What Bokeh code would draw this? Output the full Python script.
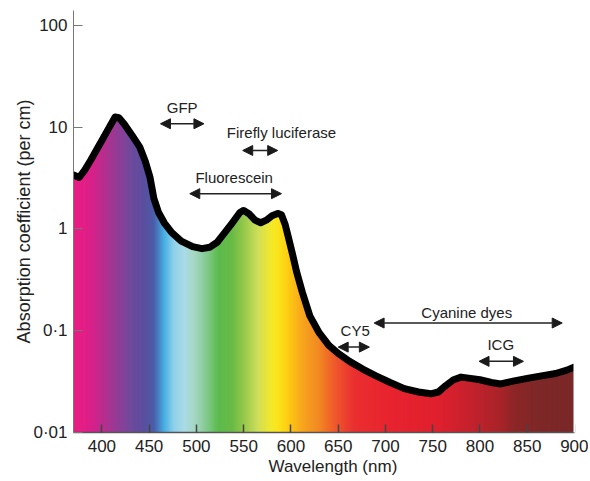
import numpy as np
from bokeh.plotting import figure
from bokeh.models import FixedTicker, CustomJSTickFormatter, Arrow, NormalHead, Range1d, Title, LogAxis
from bokeh.core.properties import value
from bokeh.embed import file_html
from bokeh.resources import INLINE

# Absorption curve
wavelength = [370, 376, 382, 388, 394, 400, 406, 414, 418, 424, 432, 440, 446, 451, 455,
              460, 466, 474, 484, 496, 506, 514, 522, 530, 538, 546, 550, 556, 562, 568,
              574, 580, 586, 590, 594, 598, 602, 606, 612, 620, 630, 640, 650, 662, 676,
              690, 705, 720, 735, 748, 756, 764, 772, 780, 790, 800, 812, 822, 835, 850,
              865, 880, 892, 900]
absorption = [3.4, 3.2, 3.8, 4.7, 5.9, 7.4, 9.3, 12.6, 12.4, 10.6, 8.3, 6.4, 4.6, 3.2, 2.0,
              1.45, 1.15, 0.92, 0.76, 0.67, 0.64, 0.66, 0.74, 0.92, 1.15, 1.45, 1.52, 1.4, 1.22, 1.15,
              1.22, 1.35, 1.42, 1.38, 1.1, 0.78, 0.55, 0.38, 0.24, 0.14, 0.095, 0.072, 0.06, 0.05, 0.042,
              0.036, 0.031, 0.027, 0.025, 0.024, 0.025, 0.029, 0.033, 0.035, 0.034, 0.033, 0.031, 0.030, 0.032, 0.034,
              0.036, 0.038, 0.041, 0.044]

# Spectrum colour stops
spectrum_nm = [370, 380, 390, 402, 417, 431, 444, 455, 466, 476, 487, 497, 508, 523, 537,
               550, 565, 579, 586, 597, 611, 629, 646, 667, 703, 756, 791, 822, 835, 862, 900]
spectrum_colors = ["#e91e84", "#e41f86", "#d6208a", "#b82e8e", "#913d96", "#6e4a9c", "#5b4e9f",
                   "#4b5ca8", "#45b0e4", "#8fd0ea", "#a9dbe6", "#a7d8c6", "#8ccd9c", "#5cbb4e",
                   "#66bb46", "#95c74a", "#cfde5a", "#f3e82c", "#fbe51a", "#fdcc12", "#f7a71d",
                   "#f28a22", "#ef5a2c", "#ea2f30", "#e8242f", "#e0202e", "#c4222d", "#a82429",
                   "#8e2627", "#7e2828", "#7a2828"]

x_ticks = [400, 450, 500, 550, 600, 650, 700, 750, 800, 850, 900]
y_ticks = [0.01, 0.1, 1, 10, 100]
y_tick_labels = ["0·01", "0·1", "1", "10", "100"]

# Annotations: label, arrow start/end, arrow height, text position
ann_labels = ["GFP", "Firefly luciferase", "Fluorescein", "Cyanine dyes", "CY5", "ICG"]
ann_x0 = [462, 549, 493, 688, 650, 799]
ann_x1 = [508, 586, 590, 887, 683, 846]
ann_y = [10.8, 5.9, 2.22, 0.119, 0.069, 0.050]
ann_text_x = [485, 590, 540, 786, 668, 822]
ann_text_y = [15.7, 8.9, 3.23, 0.152, 0.100, 0.073]

X_MIN, X_MAX = 370, 900
Y_MIN, Y_MAX = 0.01, 140

FONT = "Liberation Sans"

p = figure(width=588, height=480, x_range=Range1d(X_MIN, X_MAX), y_range=Range1d(Y_MIN, Y_MAX),
           y_axis_type="log", output_backend="svg", toolbar_location=None,
           min_border_left=73, min_border_right=14, min_border_top=10, min_border_bottom=48)
p.outline_line_color = None
p.xgrid.visible = False
p.ygrid.visible = False
p.background_fill_color = "white"
p.border_fill_color = "white"

# spectrum gradient as thin, slightly overlapping bands (only up to just above the curve's peak)
band_top = max(absorption) * 3
edges = np.arange(X_MIN, X_MAX + 1, 1.0)
mids = (edges[:-1] + edges[1:]) / 2
stops_rgb = np.array([[int(c[i:i + 2], 16) for i in (1, 3, 5)] for c in spectrum_colors], dtype=float)
rgb = np.stack([np.interp(mids, spectrum_nm, stops_rgb[:, k]) for k in range(3)], axis=1)
band_colors = ["#%02x%02x%02x" % tuple(int(round(v)) for v in row) for row in rgb]
p.quad(left=edges[:-1], right=np.minimum(edges[1:] + 1.0, X_MAX), bottom=Y_MIN, top=band_top,
       fill_color=band_colors, line_color=None)

# white mask above the curve (extended past the frame so no edge shows)
mask_x = [X_MIN - 20] + wavelength + [X_MAX + 20, X_MAX + 20, X_MIN - 20]
mask_y = [absorption[0]] + absorption + [absorption[-1], Y_MAX * 3, Y_MAX * 3]
p.patch(mask_x, mask_y, fill_color="white", line_color="white", line_width=1)

# curve
p.line(wavelength, absorption, line_color="black", line_width=7, line_join="round", line_cap="round")

# annotations
for x0, x1, y in zip(ann_x0, ann_x1, ann_y):
    p.add_layout(Arrow(x_start=x0, x_end=x1, y_start=y, y_end=y,
                       start=NormalHead(size=10, fill_color="#1a1a1a", line_color="#1a1a1a"),
                       end=NormalHead(size=10, fill_color="#1a1a1a", line_color="#1a1a1a"),
                       line_color="#222222", line_width=1.5))
p.text(x=ann_text_x, y=ann_text_y, text=ann_labels, text_font=value(FONT),
       text_font_size="15px", text_color="#222222", text_align="center", text_baseline="middle")

# axes
xa = p.xaxis[0]
xa.ticker = FixedTicker(ticks=x_ticks)
xa.major_tick_in = 8
xa.major_tick_out = 0
xa.minor_tick_line_color = None
xa.major_tick_line_color = "#444444"
xa.major_tick_line_width = 1.5
xa.axis_line_color = "#555555"
xa.axis_line_width = 1.5
xa.major_label_text_font = FONT
xa.major_label_text_font_size = "17px"
xa.major_label_text_color = "#222222"
xa.major_label_standoff = 7

# x axis title, slightly right of centre as in the original
p.add_layout(Title(text="Wavelength (nm)", align="left", offset=195, standoff=0,
                   text_font=FONT, text_font_size="17px", text_font_style="normal",
                   text_color="#222222"), "below")

ya = p.yaxis[0]
ya.ticker = FixedTicker(ticks=y_ticks, minor_ticks=[])
ya.formatter = CustomJSTickFormatter(args=dict(vals=y_ticks, labs=y_tick_labels), code="""
    for (let i = 0; i < vals.length; i++) {
        if (Math.abs(Math.log10(vals[i]) - Math.log10(tick)) < 1e-6) { return labs[i]; }
    }
    return '';
""")
ya.major_tick_in = 9
ya.major_tick_out = 0
ya.minor_tick_line_color = None
ya.major_tick_line_color = "#777777"
ya.axis_line_color = "#777777"
ya.major_label_text_font = FONT
ya.major_label_text_font_size = "17px"
ya.major_label_text_color = "#222222"
ya.major_label_standoff = 6
ya.axis_label = "Absorption coefficient (per cm)"
ya.axis_label_text_font = FONT
ya.axis_label_text_font_size = "18px"
ya.axis_label_text_font_style = "normal"
ya.axis_label_text_color = "#222222"
ya.axis_label_standoff = -4

# invisible right axis whose white line hides the anti-aliased frame edge
ra = LogAxis(ticker=FixedTicker(ticks=[]), axis_line_color="white", axis_line_width=2,
             major_tick_line_color=None, minor_tick_line_color=None,
             major_label_text_font_size="0px", major_label_standoff=0)
p.add_layout(ra, "right")

open("out.html", "w").write(file_html(p, INLINE))
